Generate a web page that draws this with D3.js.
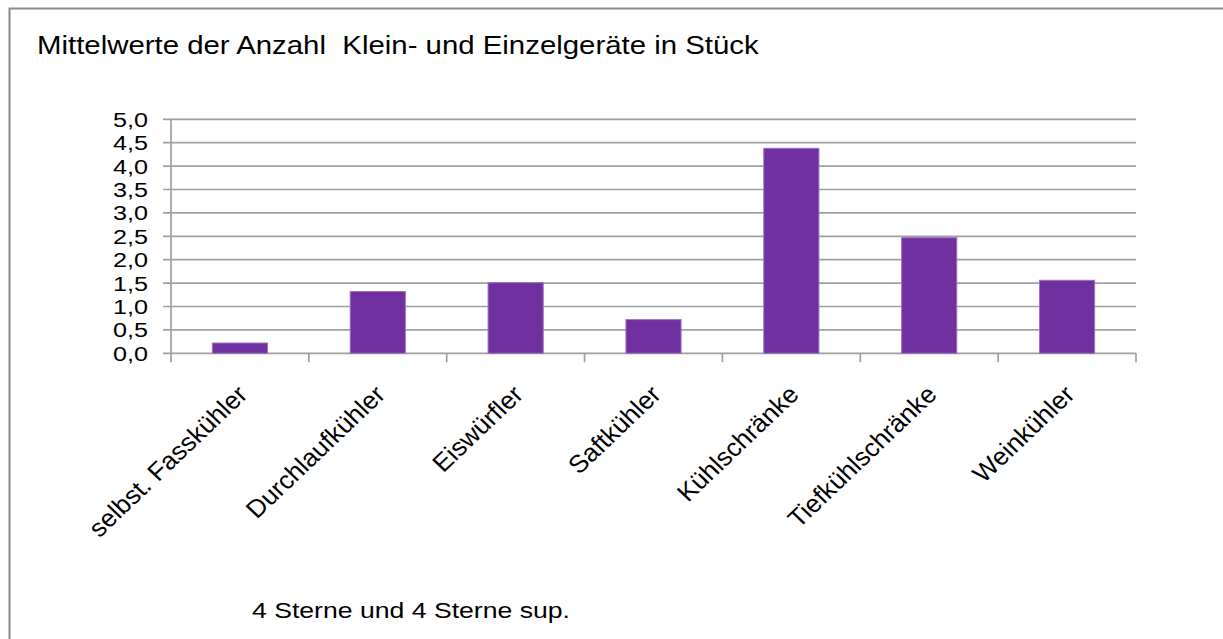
<!DOCTYPE html>
<html>
<head>
<meta charset="utf-8">
<script src="https://cdn.jsdelivr.net/npm/d3@7"></script>
<style>
  html, body { margin: 0; padding: 0; background: #fff; }
  svg { display: block; }
  text { font-family: "Liberation Sans", Arial, sans-serif; fill: #000; }
</style>
</head>
<body>
<svg id="chart" width="1223" height="639"></svg>
<script>
// Mean number of small and single appliances per hotel (4 and 4 superior stars)
const categories = ["selbst. Fasskühler", "Durchlaufkühler", "Eiswürfler", "Saftkühler",
                    "Kühlschränke", "Tiefkühlschränke", "Weinkühler"];
const values = [0.22, 1.32, 1.51, 0.72, 4.38, 2.47, 1.56];
const yTicks = [0, 0.5, 1, 1.5, 2, 2.5, 3, 3.5, 4, 4.5, 5];
const titleText = "Mittelwerte der Anzahl  Klein- und Einzelgeräte in Stück";
const footText = "4 Sterne und 4 Sterne sup.";

const W = 1223, H = 639;
const plot = { left: 171, right: 1136, top: 119.3, bottom: 353.3 };

const svg = d3.select("#chart");

// outer frame of the chart object
svg.append("rect")
  .attr("x", 9.5).attr("y", 8.5)
  .attr("width", W + 20).attr("height", H + 20)
  .attr("fill", "#fff").attr("stroke", "#8a8a8a").attr("stroke-width", 2);

const x = d3.scaleBand().domain(categories).range([plot.left, plot.right]).padding(0);
const y = d3.scaleLinear().domain([0, 5]).range([plot.bottom, plot.top]);

// horizontal gridlines
svg.append("g")
  .selectAll("line").data(yTicks).join("line")
  .attr("x1", plot.left - 8).attr("x2", plot.right)
  .attr("y1", d => y(d)).attr("y2", d => y(d))
  .attr("stroke", "#a0a0a0").attr("stroke-width", 1.7);

// y axis line
svg.append("line")
  .attr("x1", plot.left).attr("x2", plot.left)
  .attr("y1", plot.top).attr("y2", plot.bottom + 9)
  .attr("stroke", "#a0a0a0").attr("stroke-width", 1.7);

// category boundary ticks
const boundaries = categories.map(c => x(c)).concat([plot.right]);
svg.append("g")
  .selectAll("line").data(boundaries.slice(1)).join("line")
  .attr("x1", d => d).attr("x2", d => d)
  .attr("y1", plot.bottom).attr("y2", plot.bottom + 9)
  .attr("stroke", "#a0a0a0").attr("stroke-width", 1.7);

// bars
const barW = x.bandwidth() * 0.4;
svg.append("g")
  .selectAll("rect").data(values).join("rect")
  .attr("x", (d, i) => x(categories[i]) + (x.bandwidth() - barW) / 2)
  .attr("width", barW)
  .attr("y", d => y(d))
  .attr("height", d => y(0) - y(d))
  .attr("fill", "#7030a0")
  .attr("stroke", "#9c70c4").attr("stroke-width", 1);

// y tick labels
const fmt = d => d3.format(".1f")(d).replace(".", ",");
svg.append("g")
  .selectAll("text").data(yTicks).join("text")
  .attr("transform", d => `translate(148,${y(d)}) scale(1.2,1)`)
  .attr("text-anchor", "end")
  .attr("dy", "0.36em")
  .style("font-size", "21px")
  .text(fmt);

// rotated category labels
svg.append("g")
  .selectAll("text").data(categories).join("text")
  .attr("transform", d => `translate(${x(d) + x.bandwidth() / 2 + 9},396) scale(1.05,1) rotate(-45)`)
  .attr("text-anchor", "end")
  .style("font-size", "25px")
  .text(d => d);

// title
svg.append("text")
  .attr("transform", "translate(37,53.5) scale(1.176,1)")
  .style("font-size", "25px")
  .attr("xml:space", "preserve")
  .text(titleText);

// series caption below the axis
svg.append("text")
  .attr("transform", "translate(252,618) scale(1.21,1)")
  .style("font-size", "22px")
  .text(footText);
</script>
</body>
</html>
